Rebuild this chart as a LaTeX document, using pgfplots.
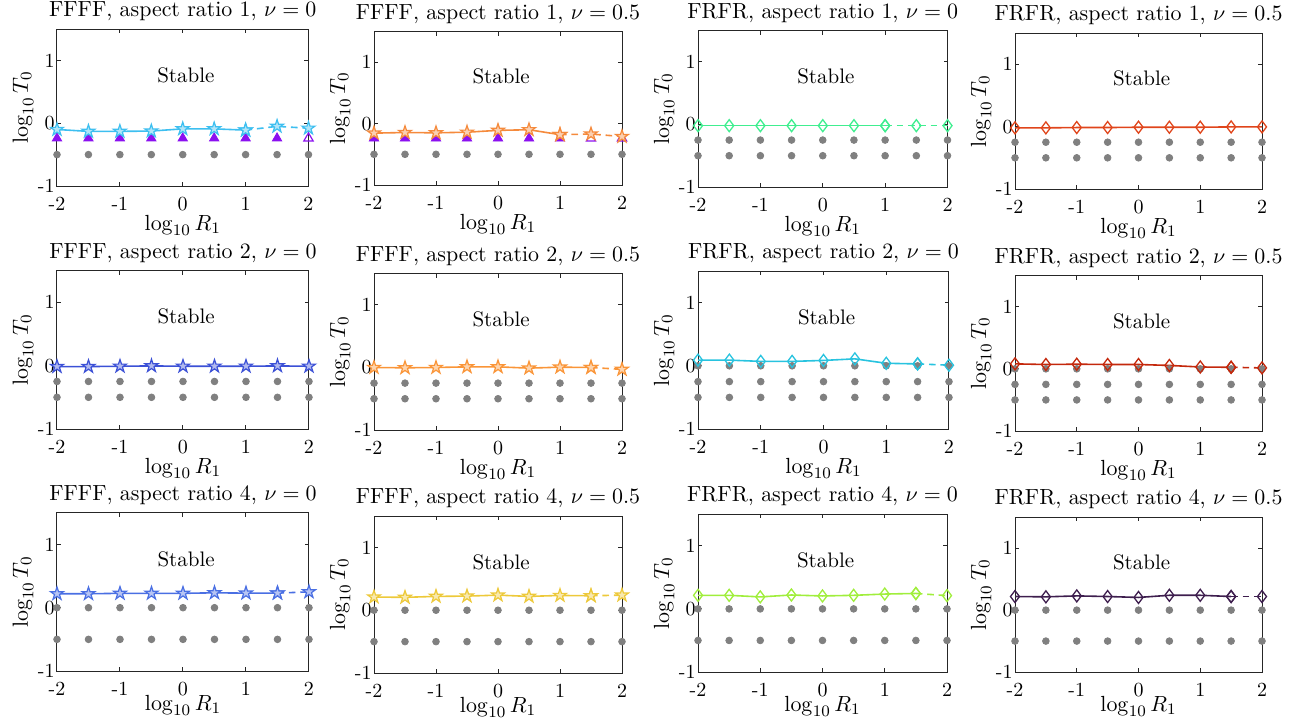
\documentclass[border=0pt]{standalone}
\usepackage{pgfplots}
\pgfplotsset{compat=1.18}

\definecolor{axc}{HTML}{262626}
\definecolor{dotg}{HTML}{808080}
\definecolor{tri}{HTML}{8B10F0}
\definecolor{cA}{HTML}{3DBFF0}
\definecolor{cB}{HTML}{F58A3C}
\definecolor{cC}{HTML}{40EE90}
\definecolor{cD}{HTML}{E0451B}
\definecolor{cE}{HTML}{3B50D6}
\definecolor{cF}{HTML}{FA9538}
\definecolor{cG}{HTML}{28C3DF}
\definecolor{cH}{HTML}{C4280C}
\definecolor{cI}{HTML}{4A6FE3}
\definecolor{cJ}{HTML}{EDC93A}
\definecolor{cK}{HTML}{A0EE3C}
\definecolor{cL}{HTML}{3E1E4E}

\pgfdeclareplotmark{pentagram}{%
  \pgfpathmoveto{\pgfpointpolar{90}{\pgfplotmarksize}}%
  \pgfpathlineto{\pgfpointpolar{126}{0.382\pgfplotmarksize}}%
  \pgfpathlineto{\pgfpointpolar{162}{\pgfplotmarksize}}%
  \pgfpathlineto{\pgfpointpolar{198}{0.382\pgfplotmarksize}}%
  \pgfpathlineto{\pgfpointpolar{234}{\pgfplotmarksize}}%
  \pgfpathlineto{\pgfpointpolar{270}{0.382\pgfplotmarksize}}%
  \pgfpathlineto{\pgfpointpolar{306}{\pgfplotmarksize}}%
  \pgfpathlineto{\pgfpointpolar{342}{0.382\pgfplotmarksize}}%
  \pgfpathlineto{\pgfpointpolar{18}{\pgfplotmarksize}}%
  \pgfpathlineto{\pgfpointpolar{54}{0.382\pgfplotmarksize}}%
  \pgfpathclose
  \pgfusepathqfillstroke
}

\pgfplotsset{
  every axis title/.style={at={(axis description cs:0.5,1)}, anchor=base, yshift=6.25pt, font=\fontsize{10.95}{13}\selectfont},
  every axis x label/.style={at={(axis description cs:0.5,0)}, anchor=base, yshift=-22pt, font=\fontsize{10.95}{13}\selectfont},
  every axis y label/.style={at={(axis description cs:0,0.5)}, rotate=90, anchor=base, yshift=14.5pt, font=\fontsize{10.95}{13}\selectfont},
  base/.style={
    scale only axis, anchor=north west, clip=false,
    xmin=-2, xmax=2, ymin=-1, ymax=1.5,
    xtick={-2,-1,0,1,2}, xticklabels={-2,-1,0,1,2},
    ytick={-1,0,1}, yticklabels={-1,0,1},
    tick align=inside, major tick length=2pt,
    axis line style={draw=axc, line width=0.5pt},
    every tick/.style={draw=axc, line width=0.5pt},
    every tick label/.append style={font=\fontsize{10}{12}\selectfont, text=black},
    xticklabel style={yshift=-2pt},
    yticklabel style={xshift=2.3pt},
    xlabel={$\log_{10} R_1$}, ylabel={$\log_{10} T_0$},
  },
  lastrow/.style={every axis x label/.append style={yshift=2.2pt}},
  gdot/.style={only marks, mark=*, mark size=1.67pt, mark options={fill=dotg, draw=dotg}},
  trif/.style={only marks, mark=triangle*, mark size=2.7pt, mark options={fill=tri, draw=tri}},
  trio/.style={only marks, mark=triangle, mark size=2.7pt, mark options={draw=tri, line width=0.6pt}},
  starS/.style={color=#1, line width=0.8pt, mark=pentagram, mark size=3.4pt, mark options={solid, fill=#1!40!white, draw=#1, line width=0.6pt}},
  starD/.style={color=#1, line width=0.8pt, dash pattern=on 3.3pt off 2.4pt, mark=pentagram, mark size=3.4pt, mark options={solid, fill=#1!40!white, draw=#1, line width=0.6pt}},
  diaS/.style={color=#1, line width=0.8pt, mark=diamond, mark size=3pt, mark options={solid, draw=#1, line width=0.65pt}},
  diaD/.style={color=#1, line width=0.8pt, dash pattern=on 3.3pt off 2.4pt, mark=diamond, mark size=3pt, mark options={solid, draw=#1, line width=0.65pt}},
}
\newcommand{\stable}{\node[font=\fontsize{10.5}{12}\selectfont] at (axis cs:0.05,0.77) {Stable};}

\begin{document}
\begin{tikzpicture}
\useasboundingbox (0,0) rectangle (650.5pt,-362.5pt);

% ---------------- Row 1 ----------------
\begin{axis}[base, at={(28.5pt,-14.5pt)}, width=125.75pt, height=78.5pt,
  title={FFFF, aspect ratio 1, $\nu = 0$}]
\addplot[gdot] coordinates {(-2,-0.5)(-1.5,-0.5)(-1,-0.5)(-0.5,-0.5)(0,-0.5)(0.5,-0.5)(1,-0.5)(1.5,-0.5)(2,-0.5)};
\addplot[trif] coordinates {(-2,-0.24)(-1.5,-0.24)(-1,-0.24)(-0.5,-0.24)(0,-0.24)(0.5,-0.24)(1,-0.24)(1.5,-0.24)};
\addplot[trio] coordinates {(2,-0.24)};
\addplot[starS=cA] coordinates {(-2,-0.10)(-1.5,-0.13)(-1,-0.13)(-0.5,-0.125)(0,-0.09)(0.5,-0.09)(1,-0.11)};
\addplot[starD=cA] coordinates {(1,-0.11)(1.5,-0.05)(2,-0.08)};
\stable
\end{axis}

\begin{axis}[base, at={(187pt,-15.75pt)}, width=124pt, height=76.75pt,
  title={FFFF, aspect ratio 1, $\nu = 0.5$}]
\addplot[gdot] coordinates {(-2,-0.5)(-1.5,-0.5)(-1,-0.5)(-0.5,-0.5)(0,-0.5)(0.5,-0.5)(1,-0.5)(1.5,-0.5)(2,-0.5)};
\addplot[trif] coordinates {(-2,-0.24)(-1.5,-0.24)(-1,-0.24)(-0.5,-0.24)(0,-0.24)(0.5,-0.24)(1,-0.24)};
\addplot[trio] coordinates {(1.5,-0.24)(2,-0.24)};
\addplot[starS=cB] coordinates {(-2,-0.155)(-1.5,-0.145)(-1,-0.15)(-0.5,-0.14)(0,-0.11)(0.5,-0.10)(1,-0.18)};
\addplot[starD=cB] coordinates {(1,-0.18)(1.5,-0.17)(2,-0.21)};
\stable
\end{axis}

\begin{axis}[base, at={(349pt,-15.25pt)}, width=124.75pt, height=78.25pt,
  title={FRFR, aspect ratio 1, $\nu = 0$}]
\addplot[gdot] coordinates {(-2,-0.25)(-1.5,-0.25)(-1,-0.25)(-0.5,-0.25)(0,-0.25)(0.5,-0.25)(1,-0.25)(1.5,-0.25)(2,-0.25)};
\addplot[gdot] coordinates {(-2,-0.5)(-1.5,-0.5)(-1,-0.5)(-0.5,-0.5)(0,-0.5)(0.5,-0.5)(1,-0.5)(1.5,-0.5)(2,-0.5)};
\addplot[diaS=cC] coordinates {(-2,-0.02)(-1.5,-0.02)(-1,-0.02)(-0.5,-0.02)(0,-0.02)(0.5,-0.02)(1,-0.02)};
\addplot[diaD=cC] coordinates {(1,-0.02)(1.5,-0.02)(2,-0.02)};
\stable
\end{axis}

\begin{axis}[base, at={(507.5pt,-16.5pt)}, width=123.5pt, height=78pt,
  title={FRFR, aspect ratio 1, $\nu = 0.5$}]
\addplot[gdot] coordinates {(-2,-0.25)(-1.5,-0.25)(-1,-0.25)(-0.5,-0.25)(0,-0.25)(0.5,-0.25)(1,-0.25)(1.5,-0.25)(2,-0.25)};
\addplot[gdot] coordinates {(-2,-0.5)(-1.5,-0.5)(-1,-0.5)(-0.5,-0.5)(0,-0.5)(0.5,-0.5)(1,-0.5)(1.5,-0.5)(2,-0.5)};
\addplot[diaS=cD] coordinates {(-2,-0.02)(-1.5,-0.02)(-1,-0.015)(-0.5,-0.015)(0,-0.01)(0.5,-0.01)(1,-0.01)(1.5,-0.005)(2,-0.005)};
\stable
\end{axis}

% ---------------- Row 2 ----------------
\begin{axis}[base, at={(28.5pt,-135.25pt)}, width=126pt, height=79.25pt,
  title={FFFF, aspect ratio 2, $\nu = 0$}]
\addplot[gdot] coordinates {(-2,-0.25)(-1.5,-0.25)(-1,-0.25)(-0.5,-0.25)(0,-0.25)(0.5,-0.25)(1,-0.25)(1.5,-0.25)(2,-0.25)};
\addplot[gdot] coordinates {(-2,-0.5)(-1.5,-0.5)(-1,-0.5)(-0.5,-0.5)(0,-0.5)(0.5,-0.5)(1,-0.5)(1.5,-0.5)(2,-0.5)};
\addplot[starS=cE] coordinates {(-2,-0.015)(-1.5,-0.015)(-1,-0.01)(-0.5,-0.005)(0,-0.01)(0.5,-0.01)(1,-0.01)(1.5,-0.005)(2,-0.01)};
\stable
\end{axis}

\begin{axis}[base, at={(187pt,-136.85pt)}, width=124pt, height=78.15pt,
  title={FFFF, aspect ratio 2, $\nu = 0.5$}]
\addplot[gdot] coordinates {(-2,-0.25)(-1.5,-0.25)(-1,-0.25)(-0.5,-0.25)(0,-0.25)(0.5,-0.25)(1,-0.25)(1.5,-0.25)(2,-0.25)};
\addplot[gdot] coordinates {(-2,-0.5)(-1.5,-0.5)(-1,-0.5)(-0.5,-0.5)(0,-0.5)(0.5,-0.5)(1,-0.5)(1.5,-0.5)(2,-0.5)};
\addplot[starS=cF] coordinates {(-2,0)(-1.5,-0.005)(-1,0)(-0.5,0.01)(0,0.01)(0.5,-0.01)(1,0.005)(1.5,0)};
\addplot[starD=cF] coordinates {(1.5,0)(2,-0.03)};
\stable
\end{axis}

\begin{axis}[base, at={(349pt,-135.5pt)}, width=125.5pt, height=79pt,
  title={FRFR, aspect ratio 2, $\nu = 0$}]
\addplot[gdot] coordinates {(-2,0)(-1.5,0)(-1,0)(-0.5,0)(0,0)(0.5,0)(1,0)(1.5,0)(2,0)};
\addplot[gdot] coordinates {(-2,-0.25)(-1.5,-0.25)(-1,-0.25)(-0.5,-0.25)(0,-0.25)(0.5,-0.25)(1,-0.25)(1.5,-0.25)(2,-0.25)};
\addplot[gdot] coordinates {(-2,-0.5)(-1.5,-0.5)(-1,-0.5)(-0.5,-0.5)(0,-0.5)(0.5,-0.5)(1,-0.5)(1.5,-0.5)(2,-0.5)};
\addplot[diaS=cG] coordinates {(-2,0.09)(-1.5,0.09)(-1,0.07)(-0.5,0.07)(0,0.085)(0.5,0.11)(1,0.04)(1.5,0.03)};
\addplot[diaD=cG] coordinates {(1.5,0.03)(2,0.01)};
\stable
\end{axis}

\begin{axis}[base, at={(507.5pt,-137.8pt)}, width=123.5pt, height=77.7pt,
  title={FRFR, aspect ratio 2, $\nu = 0.5$}]
\addplot[gdot] coordinates {(-2,0)(-1.5,0)(-1,0)(-0.5,0)(0,0)(0.5,0)(1,0)(1.5,0)(2,0)};
\addplot[gdot] coordinates {(-2,-0.25)(-1.5,-0.25)(-1,-0.25)(-0.5,-0.25)(0,-0.25)(0.5,-0.25)(1,-0.25)(1.5,-0.25)(2,-0.25)};
\addplot[gdot] coordinates {(-2,-0.5)(-1.5,-0.5)(-1,-0.5)(-0.5,-0.5)(0,-0.5)(0.5,-0.5)(1,-0.5)(1.5,-0.5)(2,-0.5)};
\addplot[diaS=cH] coordinates {(-2,0.08)(-1.5,0.07)(-1,0.075)(-0.5,0.07)(0,0.07)(0.5,0.055)(1,0.03)(1.5,0.025)};
\addplot[diaD=cH] coordinates {(1.5,0.025)(2,0.015)};
\stable
\end{axis}

% ---------------- Row 3 ----------------
\begin{axis}[base, lastrow, at={(28.5pt,-256.35pt)}, width=126pt, height=79.15pt,
  title={FFFF, aspect ratio 4, $\nu = 0$}]
\addplot[gdot] coordinates {(-2,0)(-1.5,0)(-1,0)(-0.5,0)(0,0)(0.5,0)(1,0)(1.5,0)(2,0)};
\addplot[gdot] coordinates {(-2,-0.5)(-1.5,-0.5)(-1,-0.5)(-0.5,-0.5)(0,-0.5)(0.5,-0.5)(1,-0.5)(1.5,-0.5)(2,-0.5)};
\addplot[starS=cI] coordinates {(-2,0.22)(-1.5,0.22)(-1,0.227)(-0.5,0.227)(0,0.227)(0.5,0.235)(1,0.23)(1.5,0.23)};
\addplot[starD=cI] coordinates {(1.5,0.23)(2,0.25)};
\stable
\end{axis}

\begin{axis}[base, lastrow, at={(187pt,-258pt)}, width=124pt, height=78.5pt,
  title={FFFF, aspect ratio 4, $\nu = 0.5$}]
\addplot[gdot] coordinates {(-2,0)(-1.5,0)(-1,0)(-0.5,0)(0,0)(0.5,0)(1,0)(1.5,0)(2,0)};
\addplot[gdot] coordinates {(-2,-0.5)(-1.5,-0.5)(-1,-0.5)(-0.5,-0.5)(0,-0.5)(0.5,-0.5)(1,-0.5)(1.5,-0.5)(2,-0.5)};
\addplot[starS=cJ] coordinates {(-2,0.21)(-1.5,0.205)(-1,0.22)(-0.5,0.225)(0,0.24)(0.5,0.22)(1,0.235)(1.5,0.23)};
\addplot[starD=cJ] coordinates {(1.5,0.23)(2,0.24)};
\stable
\end{axis}

\begin{axis}[base, lastrow, at={(349pt,-257.1pt)}, width=124.5pt, height=78.9pt,
  title={FRFR, aspect ratio 4, $\nu = 0$}]
\addplot[gdot] coordinates {(-2,0)(-1.5,0)(-1,0)(-0.5,0)(0,0)(0.5,0)(1,0)(1.5,0)(2,0)};
\addplot[gdot] coordinates {(-2,-0.5)(-1.5,-0.5)(-1,-0.5)(-0.5,-0.5)(0,-0.5)(0.5,-0.5)(1,-0.5)(1.5,-0.5)(2,-0.5)};
\addplot[diaS=cK] coordinates {(-2,0.215)(-1.5,0.215)(-1,0.19)(-0.5,0.22)(0,0.205)(0.5,0.215)(1,0.235)(1.5,0.245)};
\addplot[diaD=cK] coordinates {(1.5,0.245)(2,0.21)};
\stable
\end{axis}

\begin{axis}[base, lastrow, at={(507.5pt,-258.65pt)}, width=123.5pt, height=77.35pt,
  title={FRFR, aspect ratio 4, $\nu = 0.5$}]
\addplot[gdot] coordinates {(-2,0)(-1.5,0)(-1,0)(-0.5,0)(0,0)(0.5,0)(1,0)(1.5,0)(2,0)};
\addplot[gdot] coordinates {(-2,-0.5)(-1.5,-0.5)(-1,-0.5)(-0.5,-0.5)(0,-0.5)(0.5,-0.5)(1,-0.5)(1.5,-0.5)(2,-0.5)};
\addplot[diaS=cL] coordinates {(-2,0.22)(-1.5,0.215)(-1,0.23)(-0.5,0.22)(0,0.205)(0.5,0.24)(1,0.24)(1.5,0.22)};
\addplot[diaD=cL] coordinates {(1.5,0.22)(2,0.22)};
\stable
\end{axis}
\end{tikzpicture}
\end{document}
